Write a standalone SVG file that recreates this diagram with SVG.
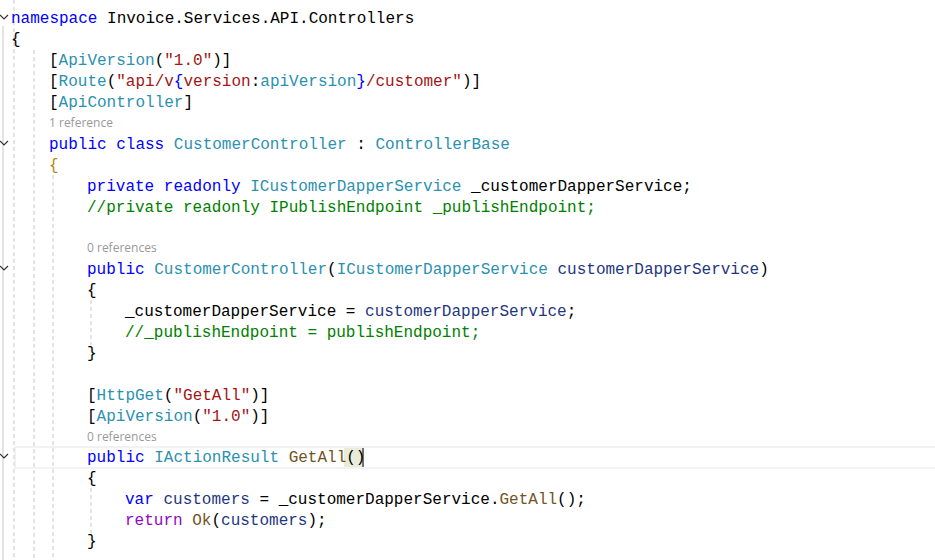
<svg xmlns="http://www.w3.org/2000/svg" width="935" height="560" viewBox="0 0 935 560">
<style>
text{font-family:"Liberation Mono","DejaVu Sans Mono",monospace;font-size:16px;fill:#000;white-space:pre}
.k{fill:#0000ff}.t{fill:#2b91af}.s{fill:#a31515}.c{fill:#008000}.v{fill:#1f377f}.m{fill:#74531f}.p{fill:#8f08c4}.b{fill:#b8860b}
.r{font-family:"Segoe UI","Open Sans","Liberation Sans",sans-serif;font-size:12px;fill:#999}
.g{stroke:#c8c8c8;stroke-dasharray:4 3;stroke-width:1}
.f{fill:none;stroke:#333;stroke-width:1.2}
</style>
<rect width="935" height="560" fill="#fff"/>
<g id="gutter">
<line x1="3" y1="26" x2="3" y2="560" stroke="#c8c8c8"/>
<line class="g" x1="14" y1="0" x2="14" y2="560"/>
<line class="g" x1="34" y1="50" x2="34" y2="560"/>
<line class="g" x1="53" y1="175" x2="53" y2="560"/>
<line class="g" x1="91" y1="300" x2="91" y2="345"/>
<line class="g" x1="91" y1="488" x2="91" y2="533"/>
<path class="f" d="M0 15 l4 4 l4 -4"/>
<path class="f" d="M0 141 l4 4 l4 -4"/>
<path class="f" d="M0 266 l4 4 l4 -4"/>
<path class="f" d="M0 454 l4 4 l4 -4"/>
</g>
<rect x="15" y="447" width="925" height="21" fill="none" stroke="#e6e6e6"/>
<rect x="344" y="448" width="20" height="19" fill="#e8ecd8"/>
<line x1="363" y1="448" x2="363" y2="467" stroke="#000"/>
<g id="code">
<text x="11" y="23"><tspan class="k">namespace</tspan> Invoice.Services.API.Controllers</text>
<text x="11" y="44">{</text>
<text x="49" y="65">[<tspan class="t">ApiVersion</tspan>(<tspan class="s">"1.0"</tspan>)]</text>
<text x="49" y="86">[<tspan class="t">Route</tspan>(<tspan class="s">"api/v</tspan><tspan class="k">{</tspan><tspan class="s">version</tspan>:<tspan class="t">apiVersion</tspan><tspan class="k">}</tspan><tspan class="s">/customer"</tspan>)]</text>
<text x="49" y="107">[<tspan class="t">ApiController</tspan>]</text>
<text class="r" x="49" y="127">1 reference</text>
<text x="49" y="149"><tspan class="k">public class</tspan> <tspan class="t">CustomerController</tspan> : <tspan class="t">ControllerBase</tspan></text>
<text x="49" y="170" class="b">{</text>
<text x="87" y="191"><tspan class="k">private readonly</tspan> <tspan class="t">ICustomerDapperService</tspan> _customerDapperService;</text>
<text x="87" y="212" class="c">//private readonly IPublishEndpoint _publishEndpoint;</text>
<text class="r" x="87" y="252">0 references</text>
<text x="87" y="274"><tspan class="k">public</tspan> <tspan class="t">CustomerController</tspan>(<tspan class="t">ICustomerDapperService</tspan> <tspan class="v">customerDapperService</tspan>)</text>
<text x="87" y="295">{</text>
<text x="125" y="316">_customerDapperService = <tspan class="v">customerDapperService</tspan>;</text>
<text x="125" y="337" class="c">//_publishEndpoint = publishEndpoint;</text>
<text x="87" y="358">}</text>
<text x="87" y="400">[<tspan class="t">HttpGet</tspan>(<tspan class="s">"GetAll"</tspan>)]</text>
<text x="87" y="421">[<tspan class="t">ApiVersion</tspan>(<tspan class="s">"1.0"</tspan>)]</text>
<text class="r" x="87" y="441">0 references</text>
<text x="87" y="462"><tspan class="k">public</tspan> <tspan class="t">IActionResult</tspan> <tspan class="m">GetAll</tspan>()</text>
<text x="87" y="483">{</text>
<text x="125" y="504"><tspan class="k">var</tspan> <tspan class="v">customers</tspan> = _customerDapperService.<tspan class="m">GetAll</tspan>();</text>
<text x="125" y="525"><tspan class="p">return</tspan> <tspan class="m">Ok</tspan>(<tspan class="v">customers</tspan>);</text>
<text x="87" y="546">}</text>
</g>
</svg>
